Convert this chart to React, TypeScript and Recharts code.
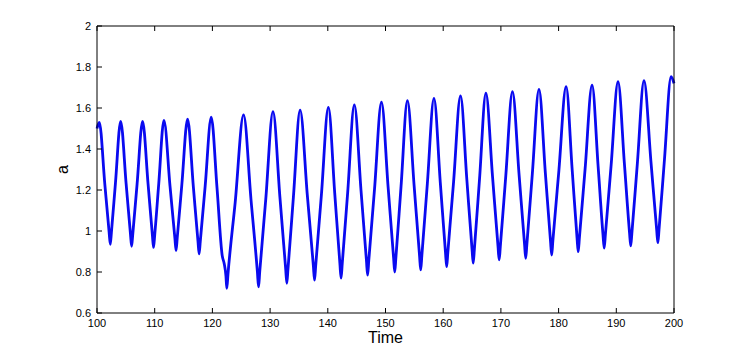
import { LineChart, Line, XAxis, YAxis } from 'recharts'

// samples of a(t): peaks, troughs and a few points on the flanks
const time = [
  100.0, 100.4, 101.35, 102.1, 102.3, 102.5, 103.2,
  104.1, 105.05, 105.8, 106.0, 106.2, 106.95,
  107.9, 108.85, 109.6, 109.8, 110.0, 110.7,
  111.6, 112.65, 113.5, 113.7, 113.9, 114.7,
  115.7, 116.7, 117.5, 117.7, 117.9, 118.75,
  119.8, 120.8, 121.7, 122.05, 122.35, 122.5, 122.7, 123.95,
  125.4, 126.7, 127.8, 128.0, 128.2, 129.25,
  130.5, 131.7, 132.7, 132.9, 133.1, 134.05,
  135.2, 136.45, 137.5, 137.7, 137.9, 138.9,
  140.1, 141.2, 142.1, 142.3, 142.5, 143.45,
  144.6, 145.75, 146.7, 146.9, 147.1, 148.1,
  149.3, 150.45, 151.4, 151.6, 151.8, 152.7,
  153.8, 154.95, 155.9, 156.1, 156.3, 157.25,
  158.4, 159.5, 160.4, 160.6, 160.8, 161.8,
  163.0, 164.1, 165.0, 165.2, 165.4, 166.3,
  167.4, 168.55, 169.5, 169.7, 169.9, 170.85,
  172.0, 173.15, 174.1, 174.3, 174.5, 175.45,
  176.6, 177.7, 178.6, 178.8, 179.0, 180.05,
  181.3, 182.35, 183.2, 183.4, 183.6, 184.6,
  185.8, 186.85, 187.7, 187.9, 188.1, 189.1,
  190.3, 191.4, 192.3, 192.5, 192.7, 193.65,
  194.8, 196.0, 197.0, 197.2, 197.4, 198.35,
  199.5, 200.0,
]

const aValue = [
  1.5, 1.53, 1.23, 0.995, 0.935, 0.995, 1.235,
  1.535, 1.23, 0.985, 0.925, 0.985, 1.23,
  1.535, 1.23, 0.98, 0.92, 0.98, 1.23,
  1.54, 1.22, 0.965, 0.905, 0.965, 1.225,
  1.545, 1.215, 0.95, 0.888, 0.95, 1.22,
  1.555, 1.21, 0.88, 0.84, 0.78, 0.72, 0.79, 1.14,
  1.566, 1.15, 0.8, 0.728, 0.8, 1.155,
  1.582, 1.165, 0.815, 0.745, 0.815, 1.17,
  1.59, 1.175, 0.83, 0.76, 0.83, 1.18,
  1.603, 1.185, 0.84, 0.77, 0.84, 1.19,
  1.615, 1.2, 0.855, 0.785, 0.855, 1.205,
  1.628, 1.215, 0.87, 0.8, 0.87, 1.22,
  1.636, 1.225, 0.88, 0.81, 0.88, 1.23,
  1.647, 1.235, 0.895, 0.826, 0.895, 1.24,
  1.659, 1.25, 0.91, 0.843, 0.91, 1.255,
  1.672, 1.265, 0.925, 0.859, 0.925, 1.27,
  1.68, 1.275, 0.935, 0.867, 0.935, 1.28,
  1.691, 1.285, 0.95, 0.883, 0.95, 1.295,
  1.704, 1.3, 0.965, 0.899, 0.965, 1.305,
  1.712, 1.315, 0.98, 0.916, 0.98, 1.32,
  1.728, 1.33, 0.99, 0.927, 0.99, 1.33,
  1.733, 1.34, 1.005, 0.943, 1.005, 1.35,
  1.753, 1.72,
]

const xTicks = [100, 110, 120, 130, 140, 150, 160, 170, 180, 190, 200]
const yTicks = [0.6, 0.8, 1, 1.2, 1.4, 1.6, 1.8, 2]

const data = time.map((t, i) => ({ t, a: aValue[i] }))

const FONT = '"Liberation Sans", Arial, sans-serif'
const tickStyle = { fill: '#000', fontSize: 11, fontFamily: FONT }
const blank = () => ''

export default function App() {
  return (
    <div style={{ position: 'absolute', left: 0, top: 0, width: 744, height: 352, background: '#fff' }}>
      <LineChart width={744} height={352} data={data} margin={{ top: 0, right: 0, bottom: 0, left: 0 }}>
        <XAxis
          dataKey="t"
          type="number"
          domain={[100, 200]}
          ticks={xTicks}
          height={39}
          stroke="#000"
          tick={tickStyle}
          tickSize={-5}
          tickMargin={11}
          label={{ value: 'Time', position: 'insideBottom', offset: 9, fontSize: 16, fill: '#000', fontFamily: FONT }}
        />
        <XAxis
          xAxisId="top"
          orientation="top"
          dataKey="t"
          type="number"
          domain={[100, 200]}
          ticks={xTicks}
          height={26}
          stroke="#000"
          tickSize={-5}
          tickFormatter={blank}
        />
        <YAxis
          type="number"
          domain={[0.6, 2]}
          ticks={yTicks}
          width={97}
          stroke="#000"
          tick={tickStyle}
          tickSize={-5}
          tickMargin={11}
          label={{ value: 'a', angle: -90, position: 'center', dx: 14, fontSize: 16, fill: '#000', fontFamily: FONT }}
        />
        <YAxis
          yAxisId="right"
          orientation="right"
          type="number"
          domain={[0.6, 2]}
          ticks={yTicks}
          width={70}
          stroke="#000"
          tickSize={-5}
          tickFormatter={blank}
        />
        <Line
          type="monotone"
          dataKey="a"
          stroke="#0a0af0"
          strokeWidth={2.8}
          dot={false}
          activeDot={false}
          isAnimationActive={false}
        />
      </LineChart>
    </div>
  )
}
